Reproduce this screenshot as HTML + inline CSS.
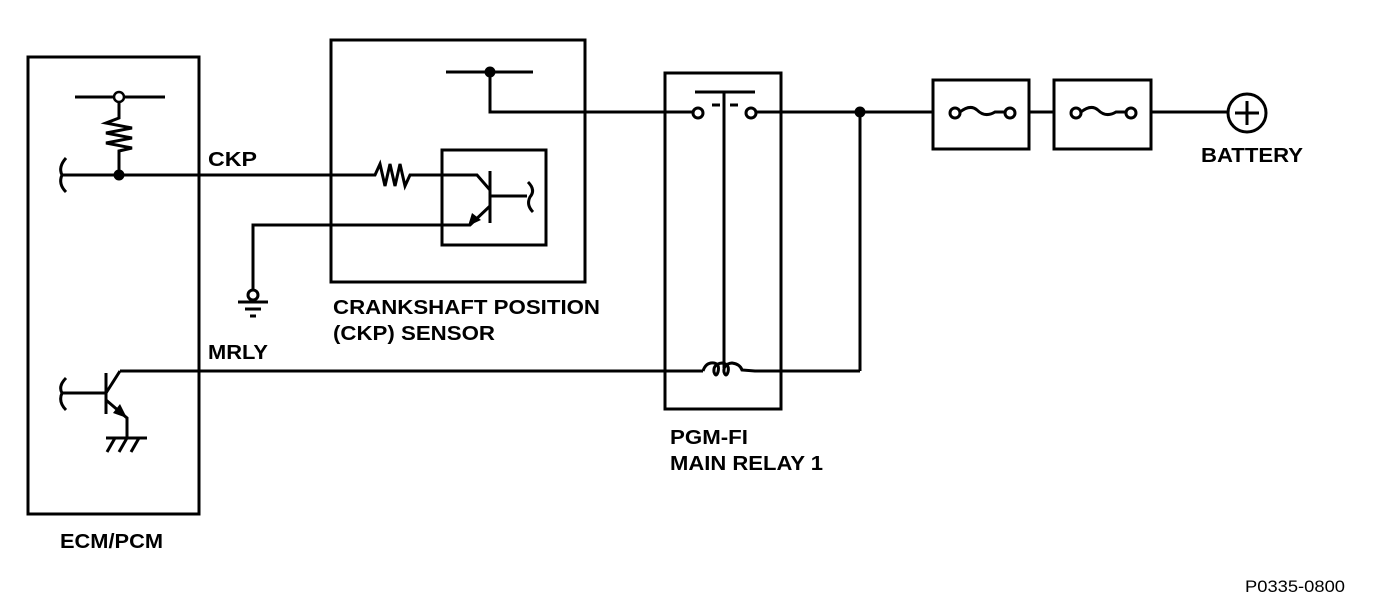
<!DOCTYPE html>
<html><head><meta charset="utf-8"><style>
html,body{margin:0;padding:0;background:#fff;}
svg{display:block;}
text{font-family:"Liberation Sans",Arial,sans-serif;font-weight:bold;font-size:20px;fill:#000;}
</style></head><body>
<svg width="1376" height="614" viewBox="0 0 1376 614" xmlns="http://www.w3.org/2000/svg">
<g fill="none" stroke="#000" stroke-width="3">
<rect x="28" y="57" width="171" height="457"/>
<line x1="75" y1="97" x2="165" y2="97"/>
<polyline points="119,102 119,118 106,123 132,128 106,133 132,138 106,143 132,148 119,151 119,175"/>
<path d="M66,158 Q58,167 62,175 Q58,184 66,192"/>
<line x1="62" y1="175" x2="370" y2="175"/>
<polyline points="370,175 375,175 380,164 385,186 390,164 395,186 400,164 405,186 410,175 477,175 490,190"/>
<rect x="331" y="40" width="254" height="242"/>
<rect x="442" y="150" width="104" height="95"/>
<line x1="490" y1="171" x2="490" y2="223"/>
<line x1="490" y1="196" x2="527" y2="196"/>
<path d="M528,182 Q536,190 530,197 Q526,205 533,212"/>
<polyline points="490,206 470,225 253,225 253,290"/>
<circle cx="253" cy="295" r="5" fill="#fff"/>
<line x1="238" y1="302" x2="268" y2="302"/>
<line x1="245" y1="309" x2="261" y2="309"/>
<line x1="250" y1="316" x2="256" y2="316"/>
<line x1="446" y1="72" x2="533" y2="72"/>
<polyline points="490,72 490,112 692,112"/>
<rect x="665" y="73" width="116" height="336"/>
<line x1="695" y1="92" x2="755" y2="92"/>
<line x1="724" y1="92" x2="724" y2="368"/>
<line x1="712" y1="105" x2="720" y2="105"/>
<line x1="730" y1="105" x2="738" y2="105"/>
<circle cx="698" cy="113" r="5" fill="#fff"/>
<circle cx="751" cy="113" r="5" fill="#fff"/>
<line x1="756" y1="112" x2="933" y2="112"/>
<line x1="860" y1="112" x2="860" y2="371"/>
<polyline points="120,371 703,371"/>
<path d="M703,371 Q706,362 714,363 Q720,364 718,372 Q716,378 714,372 Q713,364 722,363 Q730,364 728,372 Q726,378 724,372 Q723,364 732,363 Q740,364 742,370 L755,371 L860,371"/>
<line x1="106" y1="373" x2="106" y2="414"/>
<polyline points="106,393 120,371"/>
<line x1="62" y1="393" x2="106" y2="393"/>
<path d="M66,378 Q58,386 62,393 Q58,402 66,410"/>
<polyline points="106,400 127,418 127,438"/>
<line x1="106" y1="438" x2="147" y2="438"/>
<line x1="115" y1="438" x2="107" y2="452"/>
<line x1="127" y1="438" x2="119" y2="452"/>
<line x1="139" y1="438" x2="131" y2="452"/>
<rect x="933" y="80" width="96" height="69"/>
<rect x="1054" y="80" width="97" height="69"/>
<line x1="1029" y1="112" x2="1054" y2="112"/>
<line x1="1151" y1="112" x2="1228" y2="112"/>
<path d="M960,112 Q970,104 977,110 Q985,118 995,112 L1005,112"/>
<path d="M1081,112 Q1091,104 1098,110 Q1106,118 1116,112 L1126,112"/>
<circle cx="955" cy="113" r="5" fill="#fff"/>
<circle cx="1010" cy="113" r="5" fill="#fff"/>
<circle cx="1076" cy="113" r="5" fill="#fff"/>
<circle cx="1131" cy="113" r="5" fill="#fff"/>
<circle cx="1247" cy="113" r="19"/>
<line x1="1235" y1="113" x2="1259" y2="113" stroke-width="3"/>
<line x1="1247" y1="101" x2="1247" y2="125" stroke-width="3"/>
</g>
<g fill="#000">
<circle cx="119" cy="97" r="5" fill="#fff" stroke="#000" stroke-width="2.5"/>
<circle cx="119" cy="175" r="5.5"/>
<circle cx="490" cy="72" r="5.5"/>
<circle cx="860" cy="112" r="5.5"/>
<polygon points="468,226 472,213 481,220"/>
<polygon points="127,418 113,413 120,404"/>
</g>
<text x="208" y="166" textLength="49" lengthAdjust="spacingAndGlyphs">CKP</text>
<text x="208" y="359" textLength="60" lengthAdjust="spacingAndGlyphs">MRLY</text>
<text x="333" y="314" textLength="267" lengthAdjust="spacingAndGlyphs">CRANKSHAFT POSITION</text>
<text x="333" y="340" textLength="162" lengthAdjust="spacingAndGlyphs">(CKP) SENSOR</text>
<text x="670" y="444" textLength="78" lengthAdjust="spacingAndGlyphs">PGM-FI</text>
<text x="670" y="470" textLength="153" lengthAdjust="spacingAndGlyphs">MAIN RELAY 1</text>
<text x="60" y="548" textLength="103" lengthAdjust="spacingAndGlyphs">ECM/PCM</text>
<text x="1201" y="162" textLength="102" lengthAdjust="spacingAndGlyphs">BATTERY</text>
<text x="1245" y="592" textLength="100" lengthAdjust="spacingAndGlyphs" style="font-weight:normal;font-size:17px">P0335-0800</text>
</svg>
</body></html>
